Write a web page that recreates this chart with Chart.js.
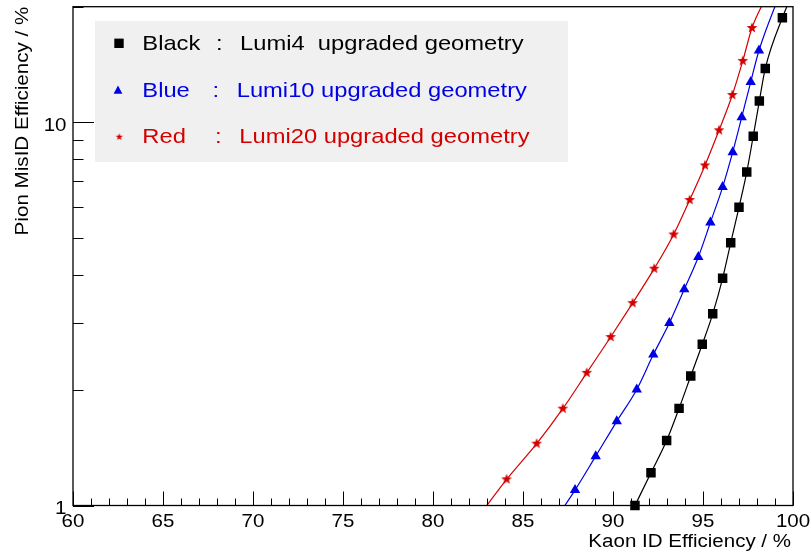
<!DOCTYPE html>
<html><head><meta charset="utf-8">
<script src="https://cdn.jsdelivr.net/npm/chart.js@4/dist/chart.umd.min.js"></script>
<style>html,body{margin:0;padding:0;background:#fff;overflow:hidden}</style>
</head><body>
<canvas id="c" width="811" height="558"></canvas>
<script>
// ---- data ----
const blackX = [91.22, 92.11, 92.98, 93.67, 94.32, 94.96, 95.54, 96.09, 96.54, 97.00, 97.43, 97.79, 98.13, 98.46, 99.41, 100.3];
const blackY = [1.00, 1.217, 1.477, 1.792, 2.176, 2.633, 3.162, 3.914, 4.845, 5.996, 7.406, 9.186, 11.35, 13.80, 18.72, 23.4];
const blueX = [86.6, 87.89, 89.04, 90.21, 91.32, 92.24, 93.13, 93.96, 94.74, 95.41, 96.09, 96.65, 97.15, 97.65, 98.11, 99.25];
const blueY = [0.89, 1.097, 1.345, 1.658, 2.007, 2.475, 2.991, 3.666, 4.447, 5.472, 6.77, 8.35, 10.29, 12.72, 15.37, 21.5];
const redX = [82.6, 84.09, 85.76, 87.21, 88.54, 89.87, 91.09, 92.29, 93.37, 94.26, 95.11, 95.89, 96.63, 97.21, 97.72, 98.6];
const redY = [0.945, 1.170, 1.450, 1.789, 2.218, 2.751, 3.372, 4.147, 5.093, 6.264, 7.709, 9.52, 11.77, 14.44, 17.60, 21.6];

const legendNames = ['Black', 'Blue', 'Red'];
const legendDescs = ['Lumi4  upgraded geometry', 'Lumi10 upgraded geometry', 'Lumi20 upgraded geometry'];

const xTickValues = [60, 65, 70, 75, 80, 85, 90, 95, 100];
const xTickLabels = ['60', '65', '70', '75', '80', '85', '90', '95', '100'];
const yTickValues = [1, 10];
const yTickLabels = ['1', '10'];
const yMinorValues = [2, 3, 4, 5, 6, 7, 8, 9, 20];

const xTitle = 'Kaon ID Efficiency / %';
const yTitle = 'Pion MisID Efficiency / %';

// ---- styles ----
const COL_BLACK = '#000000', COL_BLUE = '#0000e6', COL_RED = '#d40000';
const FONT = '"Liberation Sans", Arial, Helvetica, sans-serif';

function pts(xs, ys) { return xs.map((x, i) => ({x: x, y: ys[i]})); }

function starCanvas(outer, color) {
  const s = Math.ceil(outer * 2 + 2);
  const c = document.createElement('canvas');
  c.width = s; c.height = s;
  const g = c.getContext('2d');
  const cx = s / 2, cy = s / 2, inner = outer * 0.42;
  g.beginPath();
  for (let i = 0; i < 10; i++) {
    const r = i % 2 === 0 ? outer : inner;
    const ang = -Math.PI / 2 + i * Math.PI / 5;
    const px = cx + r * Math.cos(ang), py = cy + r * Math.sin(ang);
    if (i === 0) g.moveTo(px, py); else g.lineTo(px, py);
  }
  g.closePath();
  g.fillStyle = color;
  g.fill();
  return c;
}
const starBig = starCanvas(5.6, COL_RED);
const starSmall = starCanvas(3.8, COL_RED);

function sText(ctx, text, x, y, align, sx) {
  ctx.save();
  ctx.translate(x, y);
  ctx.scale(sx, 1);
  ctx.textAlign = align;
  ctx.fillText(text, 0, 0);
  ctx.restore();
}

const rootFrame = {
  id: 'rootFrame',
  afterDraw(chart) {
    const ctx = chart.ctx, a = chart.chartArea;
    const xs = chart.scales.x, ys = chart.scales.y;
    ctx.save();
    ctx.strokeStyle = '#000';
    ctx.fillStyle = '#000';
    ctx.lineWidth = 1.3;
    ctx.strokeRect(a.left, a.top, a.right - a.left, a.bottom - a.top);
    ctx.lineWidth = 1;
    // x ticks (inside, upward)
    ctx.beginPath();
    for (let v = xs.min; v <= xs.max + 1e-9; v += 1) {
      const px = Math.round(xs.getPixelForValue(v)) + 0.5;
      const major = xTickValues.includes(v);
      const len = major ? 14 : 7;
      ctx.moveTo(px, a.bottom);
      ctx.lineTo(px, a.bottom - len);
    }
    // y ticks (inside, rightward)
    yTickValues.forEach(v => {
      const py = Math.round(ys.getPixelForValue(v)) + 0.5;
      ctx.moveTo(a.left, py); ctx.lineTo(a.left + 21, py);
    });
    yMinorValues.forEach(v => {
      const py = Math.round(ys.getPixelForValue(v)) + 0.5;
      ctx.moveTo(a.left, py); ctx.lineTo(a.left + 10.5, py);
    });
    ctx.stroke();
    // tick labels
    ctx.font = '18px ' + FONT;
    ctx.textBaseline = 'alphabetic';
    const SX = 1.14;
    xTickValues.forEach((v, i) => {
      sText(ctx, xTickLabels[i], xs.getPixelForValue(v), a.bottom + 21, 'center', SX);
    });
    yTickValues.forEach((v, i) => {
      sText(ctx, yTickLabels[i], a.left - 6.5, ys.getPixelForValue(v) + 8.5, 'right', SX);
    });
    // axis titles
    sText(ctx, xTitle, a.right - 2, 547, 'right', 1.14);
    ctx.save();
    ctx.translate(27.5, a.top);
    ctx.rotate(-Math.PI / 2);
    ctx.scale(1.145, 1);
    ctx.textAlign = 'right';
    ctx.fillText(yTitle, 0, 0);
    ctx.restore();

    // legend box
    ctx.fillStyle = '#f0f0f0';
    ctx.fillRect(95, 21, 473, 141);
    const rowBase = [50, 96.7, 143.3];
    const rowMid = [43.3, 90, 137];
    const colors = [COL_BLACK, COL_BLUE, COL_RED];
    const colonX = [216, 212.5, 215];
    const descX = [240, 236.7, 239.3];
    ctx.font = '21px ' + FONT;
    for (let i = 0; i < 3; i++) {
      ctx.fillStyle = colors[i];
      sText(ctx, legendNames[i], 142.3, rowBase[i], 'left', 1.13);
      sText(ctx, ':', colonX[i], rowBase[i], 'left', 1.13);
      sText(ctx, legendDescs[i], descX[i], rowBase[i], 'left', 1.13);
    }
    // legend markers
    ctx.fillStyle = COL_BLACK;
    ctx.fillRect(119 - 4.7, rowMid[0] - 4.7, 9.4, 9.4);
    ctx.fillStyle = COL_BLUE;
    ctx.beginPath();
    ctx.moveTo(118, rowMid[1] - 4.6);
    ctx.lineTo(122.4, rowMid[1] + 3.8);
    ctx.lineTo(113.6, rowMid[1] + 3.8);
    ctx.closePath();
    ctx.fill();
    ctx.drawImage(starSmall, 119.3 - starSmall.width / 2, rowMid[2] - starSmall.height / 2);
    ctx.restore();
  }
};

new Chart(document.getElementById('c'), {
  type: 'line',
  data: {
    datasets: [
      {
        label: legendNames[0], data: pts(blackX, blackY),
        borderColor: COL_BLACK, backgroundColor: COL_BLACK,
        pointBackgroundColor: COL_BLACK, pointBorderWidth: 0,
        pointStyle: 'rect', pointRadius: 6.7, borderWidth: 1.2,
        cubicInterpolationMode: 'monotone', fill: false,
        clip: {left: 0, top: 0, right: 0, bottom: false}
      },
      {
        label: legendNames[1], data: pts(blueX, blueY),
        borderColor: COL_BLUE, backgroundColor: COL_BLUE,
        pointBackgroundColor: COL_BLUE, pointBorderWidth: 0,
        pointStyle: 'triangle', pointRadius: 6, borderWidth: 1.2,
        cubicInterpolationMode: 'monotone', fill: false,
        clip: 0
      },
      {
        label: legendNames[2], data: pts(redX, redY),
        borderColor: COL_RED, backgroundColor: COL_RED,
        pointBackgroundColor: COL_RED, pointBorderWidth: 0,
        pointStyle: starBig, pointRadius: 6, borderWidth: 1.2,
        cubicInterpolationMode: 'monotone', fill: false,
        clip: 0
      }
    ]
  },
  options: {
    responsive: false,
    animation: false,
    events: [],
    layout: {padding: {left: 73, right: 18, top: 5, bottom: 52.5}},
    plugins: {legend: {display: false}, tooltip: {enabled: false}},
    scales: {
      x: {type: 'linear', min: 60, max: 100, display: false},
      y: {type: 'logarithmic', min: 1, max: 20, display: false}
    }
  },
  plugins: [rootFrame]
});
</script>
</body></html>
